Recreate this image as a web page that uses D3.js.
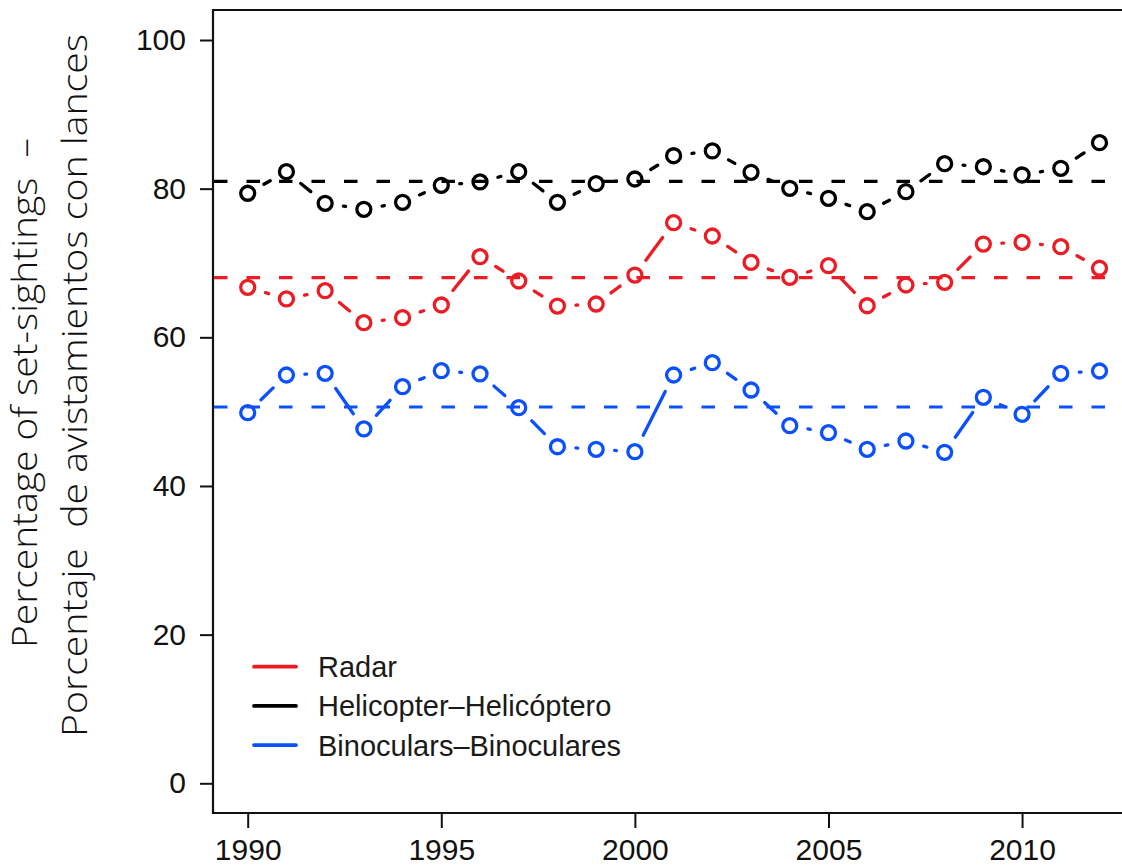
<!DOCTYPE html>
<html>
<head>
<meta charset="utf-8">
<script src="https://cdn.jsdelivr.net/npm/d3@7"></script>
<style>
  html, body { margin: 0; padding: 0; background: #fff; }
  svg { display: block; }
</style>
</head>
<body>
<svg id="chart" width="1122" height="868"></svg>
<script>
// Survey years
const years = d3.range(1990, 2013);

// Percentage of set-sightings by detection method
const radar = [66.73, 65.16, 66.27, 61.97, 62.64, 64.35, 70.85, 67.58, 64.21, 64.48, 68.38,
               75.42, 73.63, 70.09, 68.07, 69.64, 64.25, 67.04, 67.40, 72.55, 72.78, 72.19, 69.29];
const helicopter = [79.38, 82.28, 78.03, 77.22, 78.16, 80.45, 80.90, 82.28, 78.16, 80.67, 81.30,
                    84.43, 85.07, 82.20, 80.05, 78.70, 76.90, 79.59, 83.36, 82.95, 81.84, 82.74, 86.18];
const binoculars = [49.86, 54.93, 55.16, 47.67, 53.36, 55.51, 55.07, 50.53, 45.28, 44.93, 44.61,
                    54.93, 56.59, 52.91, 48.11, 47.17, 44.93, 46.05, 44.53, 51.93, 49.64, 55.16, 55.47];

const seriesNames = ["Radar", "Helicopter\u2013Helicóptero", "Binoculars\u2013Binoculares"];
const seriesColors = ["#ec1c24", "#000000", "#0a50ff"];

const yTicks = [0, 20, 40, 60, 80, 100];
const xTicks = [1990, 1995, 2000, 2005, 2010];

const titleLines = ["Percentage of set-sightings  \u2013", "Porcentaje  de avistamientos con lances"];

const series = [radar, helicopter, binoculars].map((vals, i) => ({
  name: seriesNames[i],
  color: seriesColors[i],
  points: years.map((yr, j) => ({ year: yr, value: vals[j] })),
  mean: d3.mean(vals)
}));

const svg = d3.select("#chart");

// Plot region
const frame = { left: 213, top: 10, bottom: 813, right: 1140 };

const x = d3.scaleLinear().domain([1990, 2012]).range([247.7, 1099.5]);
const y = d3.scaleLinear().domain([0, 100]).range([783.3, 40]);

const tickFont = "'Liberation Sans', Arial, Helvetica, sans-serif";

// Axes
const yAxis = svg.append("g")
  .attr("transform", `translate(${frame.left},0)`)
  .call(d3.axisLeft(y).tickValues(yTicks).tickSize(13).tickPadding(14).tickFormat(d3.format("d")));
yAxis.select(".domain").remove();
yAxis.selectAll(".tick line").attr("stroke", "#111").attr("stroke-width", 2);
yAxis.selectAll(".tick text")
  .attr("font-family", tickFont).attr("font-size", 30).attr("fill", "#111");

const xAxis = svg.append("g")
  .attr("transform", `translate(0,${frame.bottom})`)
  .call(d3.axisBottom(x).tickValues(xTicks).tickSize(15).tickPadding(11).tickFormat(d3.format("d")));
xAxis.select(".domain").remove();
xAxis.selectAll(".tick line").attr("stroke", "#111").attr("stroke-width", 2);
xAxis.selectAll(".tick text")
  .attr("font-family", tickFont).attr("font-size", 30).attr("fill", "#111");

// Box around the plot region
svg.append("path")
  .attr("d", `M${frame.right},${frame.top}H${frame.left}V${frame.bottom}H${frame.right}`)
  .attr("fill", "none").attr("stroke", "#111").attr("stroke-width", 2.2);

// Series: open circles joined by segments that stop short of each point
const gap = 18.5;
const plot = svg.append("g");

series.forEach(s => {
  const g = plot.append("g");
  const pts = s.points.map(p => [x(p.year), y(p.value)]);
  const segs = d3.pairs(pts).map(([a, b]) => {
    const dx = b[0] - a[0], dy = b[1] - a[1];
    const d = Math.hypot(dx, dy);
    const ux = dx / d, uy = dy / d;
    return { x1: a[0] + ux * gap, y1: a[1] + uy * gap, x2: b[0] - ux * gap, y2: b[1] - uy * gap, ok: d > 2 * gap };
  }).filter(sg => sg.ok);

  g.selectAll("line.seg").data(segs).join("line")
    .attr("class", "seg")
    .attr("x1", d => d.x1).attr("y1", d => d.y1)
    .attr("x2", d => d.x2).attr("y2", d => d.y2)
    .attr("stroke", s.color).attr("stroke-width", 3.3).attr("stroke-linecap", "round");

  g.selectAll("circle").data(s.points).join("circle")
    .attr("cx", d => x(d.year)).attr("cy", d => y(d.value))
    .attr("r", 7)
    .attr("fill", "none").attr("stroke", s.color).attr("stroke-width", 3.3);
});

// Mean of each series as a dashed horizontal line
series.forEach(s => {
  plot.append("line")
    .attr("x1", frame.left + 1).attr("x2", frame.right)
    .attr("y1", y(s.mean)).attr("y2", y(s.mean))
    .attr("stroke", s.color).attr("stroke-width", 3.2)
    .attr("stroke-dasharray", "13.5 19");
});

// Legend
const legend = svg.append("g");
series.forEach((s, i) => {
  const ly = 666.7 + i * 39.2;
  legend.append("line")
    .attr("x1", 254).attr("x2", 296).attr("y1", ly).attr("y2", ly)
    .attr("stroke", s.color).attr("stroke-width", 3.8).attr("stroke-linecap", "round");
  legend.append("text")
    .attr("x", 318).attr("y", ly + 10.5)
    .attr("font-family", tickFont).attr("font-size", 29).attr("fill", "#1a1a1a")
    .text(s.name);
});

// Y-axis title (two lines)
const titleFont = "'Open Sans', 'Noto Sans', sans-serif";
const titleSpecs = [
  { bx: 37, by: 648, len: 510 },
  { bx: 87, by: 737, len: 703 }
];
titleLines.forEach((t, i) => {
  const sp = titleSpecs[i];
  svg.append("text")
    .attr("transform", `translate(${sp.bx},${sp.by}) rotate(-90)`)
    .attr("text-anchor", "start")
    .attr("font-family", titleFont).attr("font-weight", 300)
    .attr("font-size", 34).attr("fill", "#111")
    .attr("textLength", sp.len).attr("lengthAdjust", "spacingAndGlyphs")
    .attr("xml:space", "preserve")
    .style("white-space", "pre")
    .text(t);
});
</script>
</body>
</html>
